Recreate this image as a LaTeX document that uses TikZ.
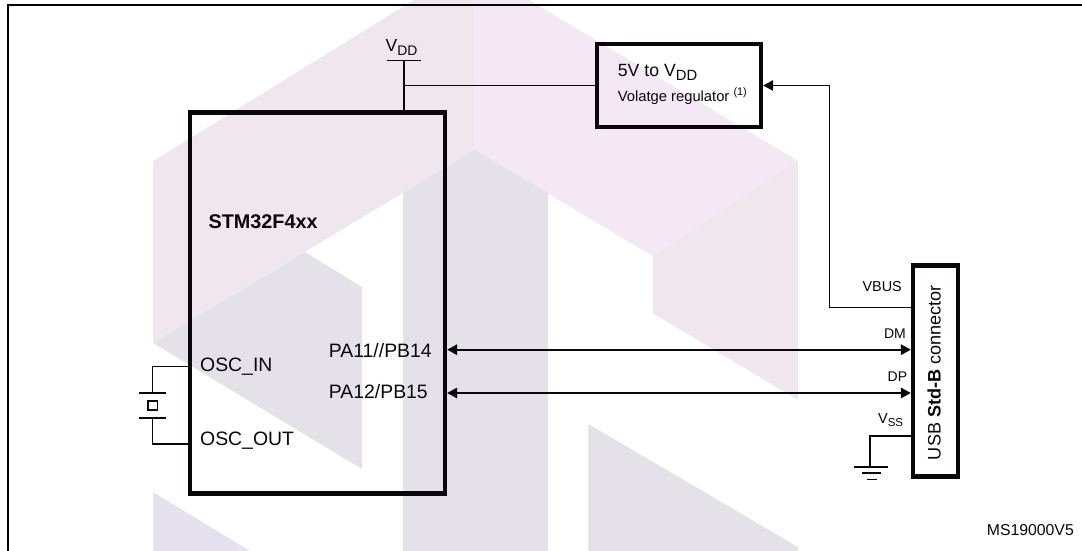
\documentclass[tikz,border=0pt]{standalone}
\usepackage{fontspec}
\setmainfont{Liberation Sans}
\usetikzlibrary{arrows.meta, positioning, calc}
\definecolor{wmpink}{HTML}{F5E8F5}
\definecolor{wmmauve}{HTML}{EFE6EE}
\definecolor{wmgray}{HTML}{E5E1E8}
\definecolor{wmlav}{HTML}{E6E1EE}
\definecolor{ink}{HTML}{0A060C}
\newcommand{\fsz}[1]{\fontsize{#1}{#1}\selectfont}
\newcommand{\volt}[4]{{\fsz{#1}V\raisebox{-#3pt}{\fsz{#2}#4}}}
\tikzset{
  box/.style={rectangle, draw=ink, line width=4.4pt, inner sep=0pt},
  lbl/.style={anchor=base west, inner sep=0pt, text=ink, font=\fsz{19.4}},
  pin/.style={anchor=base east, inner sep=0pt, text=ink, font=\fsz{14.4}},
  wire/.style={draw=ink, line width=1.6pt},
  arr/.style={draw=ink, line width=1.8pt, {Triangle[length=10pt,width=10.5pt]}-{Triangle[length=10pt,width=10.5pt]}},
  arrin/.style={draw=ink, line width=1.5pt, -{Triangle[length=10pt,width=10.5pt]}},
}
\begin{document}
\begin{tikzpicture}[x=1pt, y=-1pt]
  \useasboundingbox (0,0) rectangle (1082,551);
  % Watermark
  \fill[wmpink] (474.5,0) -- (529,0) -- (798,161) -- (652.5,256) -- (474.5,150) -- cycle;
  \fill[wmmauve] (153,161) -- (414,0) -- (474.5,0) -- (474.5,150) -- (153,343) -- cycle;
  \fill[wmmauve] (798,161) -- (652.5,256) -- (652.5,313) -- (798,400) -- cycle;
  \fill[wmgray] (305,252) -- (362,287) -- (362,469) -- (153,343) -- cycle;
  \fill[wmgray] (403,193) -- (474.5,150) -- (548,193) -- (548,551) -- (403,551) -- cycle;
  \fill[wmgray] (588.3,424) -- (798,547) -- (798,551) -- (588.3,551) -- cycle;
  \fill[wmlav] (153,492) -- (250,551) -- (153,551) -- cycle;

  % Frame
  \draw[draw=black, line width=1.8pt] (7.6,551) -- (7.6,5) -- (1082,5);

  % Boxes
  \node[box, minimum width=255.3pt, minimum height=381pt] (chip) at (317.35,302.8) {};
  \node[box, minimum width=164pt, minimum height=83.4pt] (reg) at (679,85.5) {};
  \node[box, minimum width=45pt, minimum height=211pt] (usb) at (935.5,371) {};

  % Chip labels
  \node[lbl, font=\fsz{19.8}\bfseries] (name) at (208.4,228.3) {STM32F4xx};
  \node[lbl] (oscin) at (200,371.7) {OSC\_IN};
  \node[lbl] (oscout) at (200,445) {OSC\_OUT};
  \node[lbl] (pa11) at (328.7,357.7) {PA11//PB14};
  \node[lbl] (pa12) at (328.7,398.3) {PA12/PB15};

  % Regulator labels
  \node[lbl] (regtop) at (617.7,76.7) {\fsz{17.7}5V to \volt{17.7}{14.8}{4.2}{DD}};
  \node[lbl, font=\fsz{14.75}] (regtxt) at (617.7,101.7) {Volatge regulator \raisebox{6pt}{\fsz{10.9}(1)}};

  % Connector labels
  \node[lbl, anchor=base, rotate=90, font=\fsz{18.1}] (usbtxt) at (940.7,372.5) {USB \textbf{Std-B} connector};
  \node[pin] (vbuslbl) at (902,291.7) {VBUS};
  \node[pin, font=\fsz{14}] (dmlbl) at (906,338) {DM};
  \node[pin, font=\fsz{14}] (dplbl) at (907.3,381) {DP};
  \node[pin] (vsslbl) at (903.3,423) {\volt{14.5}{11.5}{3.7}{SS}};
  \node[lbl, anchor=base east, font=\fsz{15.8}] (ref) at (1074,535) {MS19000V5};

  % VDD
  \coordinate (vdd) at (404,60.7);
  \coordinate (vddl) at (386.7,60.7);
  \coordinate (vddr) at (421,60.7);
  \node[lbl] (vddlbl) at (385.4,51.7) {\volt{17.5}{13.9}{4}{DD}};
  \draw[wire] (vddl) -- (vddr);
  \draw[wire] (vdd) -- (vdd |- chip.north);
  \draw[wire] (reg.west) -- (reg.west -| vdd);

  % VBUS
  \coordinate (vbus) at (829.3,307.7);
  \draw[arrin] (vbus -| usb.west) -- (vbus) |- (reg.east);

  % Data lines
  \coordinate (dm) at (680,349.7);
  \coordinate (dp) at (680,393);
  \draw[arr] (dm -| chip.east) -- (dm -| usb.west);
  \draw[arr] (dp -| chip.east) -- (dp -| usb.west);

  % Ground
  \coordinate (vss) at (869.7,436);
  \coordinate (gnd) at (869.7,466.7);
  \draw[wire] (vss -| usb.west) -- (vss) -- (gnd);
  \draw[wire] ($(gnd)+(-16,0)$) -- ($(gnd)+(18,0)$);
  \draw[wire] ($(gnd)+(-8,6.2)$) -- ($(gnd)+(11,6.2)$);
  \draw[wire] ($(gnd)+(-3,12.6)$) -- ($(gnd)+(7,12.6)$);

  % Crystal
  \node[rectangle, draw=ink, line width=1.6pt, minimum width=9.4pt, minimum height=9.2pt, inner sep=0pt] (xtal) at (152.6,405.5) {};
  \coordinate (pltop) at (152.6,392.7);
  \coordinate (plbot) at (152.6,418);
  \draw[wire] ($(pltop)+(-13.5,0)$) -- ($(pltop)+(13.5,0)$);
  \draw[wire] ($(plbot)+(-13.5,0)$) -- ($(plbot)+(13.5,0)$);
  \coordinate (xin) at (152.6,366.3);
  \coordinate (xout) at (152.6,444);
  \draw[wire] (xin -| chip.west) -- (xin) -- (pltop);
  \draw[wire] (xout -| chip.west) -- (xout) -- (plbot);
\end{tikzpicture}
\end{document}
